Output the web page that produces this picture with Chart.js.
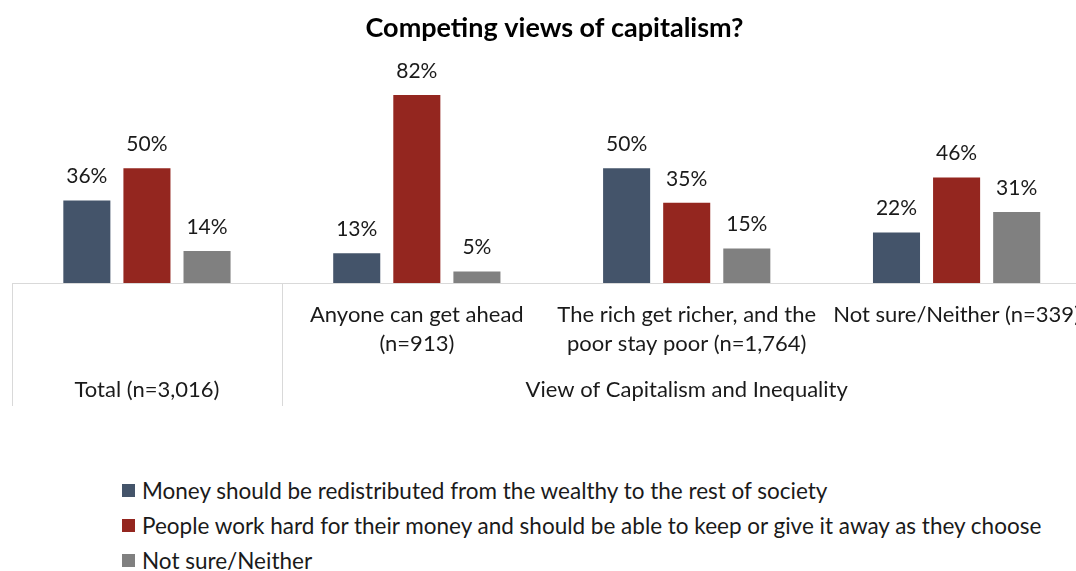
<!DOCTYPE html>
<html>
<head>
<meta charset="utf-8">
<script src="https://cdn.jsdelivr.net/npm/chart.js@4.4.1/dist/chart.umd.min.js"></script>
<style>
  html, body { margin: 0; padding: 0; background: #fff; overflow: hidden; }
  body { width: 1076px; height: 571px; position: relative; font-family: Lato, 'Noto Sans', sans-serif; }
  #chart { position: absolute; left: 0; top: 0; }
  #legend { position: absolute; left: 122px; top: 473px; }
  .leg-row { display: flex; align-items: center; height: 35px; font-size: 22.5px; color: #1a1a1a; white-space: nowrap; }
  .leg-box { width: 13px; height: 13px; margin-right: 7px; flex: none; }
</style>
</head>
<body>
<canvas id="chart" width="1097" height="420"></canvas>
<div id="legend"></div>
<script>
const titleText = 'Competing views of capitalism?';
const categories = [
  [''],
  ['Anyone can get ahead', '(n=913)'],
  ['The rich get richer, and the', 'poor stay poor (n=1,764)'],
  ['Not sure/Neither (n=339)']
];
const groupLabels = ['Total (n=3,016)', 'View of Capitalism and Inequality'];
const seriesNames = [
  'Money should be redistributed from the wealthy to the rest of society',
  'People work hard for their money and should be able to keep or give it away as they choose',
  'Not sure/Neither'
];
const redistribute = [36, 13, 50, 22];
const workHard = [50, 82, 35, 46];
const notSure = [14, 5, 15, 31];
const colors = ['#44546A', '#94261F', '#808080'];

const FONT = 'Lato, "Noto Sans", sans-serif';
const TEXT = '#1a1a1a';
const LINE = '#d9d9d9';

// value labels above each bar
const valueLabels = {
  id: 'valueLabels',
  afterDatasetsDraw(chart) {
    const ctx = chart.ctx;
    ctx.save();
    ctx.font = '21px ' + FONT;
    ctx.fillStyle = TEXT;
    ctx.textAlign = 'center';
    ctx.textBaseline = 'middle';
    chart.data.datasets.forEach((ds, i) => {
      chart.getDatasetMeta(i).data.forEach((bar, j) => {
        ctx.fillText(ds.data[j] + '%', bar.x, bar.y - 24);
      });
    });
    ctx.restore();
  }
};

// second level of the category axis: divider lines and group names
const groupAxis = {
  id: 'groupAxis',
  afterDraw(chart) {
    const ctx = chart.ctx;
    const x = chart.scales.x;
    const half = (x.getPixelForValue(1) - x.getPixelForValue(0)) / 2;
    const top = chart.chartArea.bottom;
    const bottom = top + 123;
    ctx.save();
    ctx.strokeStyle = LINE;
    ctx.lineWidth = 1;
    [x.getPixelForValue(0) - half, x.getPixelForValue(0) + half].forEach((px) => {
      px = Math.round(px) + 0.5;
      ctx.beginPath();
      ctx.moveTo(px, top);
      ctx.lineTo(px, bottom);
      ctx.stroke();
    });
    ctx.font = '22px ' + FONT;
    ctx.fillStyle = TEXT;
    ctx.textAlign = 'center';
    ctx.textBaseline = 'middle';
    ctx.fillText(groupLabels[0], x.getPixelForValue(0), top + 107);
    ctx.fillText(groupLabels[1], (x.getPixelForValue(1) + x.getPixelForValue(3)) / 2, top + 107);
    ctx.restore();
  }
};

new Chart(document.getElementById('chart'), {
  type: 'bar',
  data: {
    labels: categories,
    datasets: [
      { label: seriesNames[0], data: redistribute, backgroundColor: colors[0] },
      { label: seriesNames[1], data: workHard, backgroundColor: colors[1] },
      { label: seriesNames[2], data: notSure, backgroundColor: colors[2] }
    ]
  },
  options: {
    responsive: false,
    animation: false,
    layout: { padding: { left: 12, right: 0, top: 0, bottom: 14 } },
    datasets: { bar: { categoryPercentage: 0.668, barPercentage: 0.783 } },
    plugins: {
      legend: { display: false },
      tooltip: { enabled: false },
      title: {
        display: true,
        text: titleText,
        color: '#000',
        font: { family: FONT, size: 27, weight: 'bold', lineHeight: 1.2 },
        padding: { top: 12, bottom: 13 }
      }
    },
    scales: {
      x: {
        grid: { display: false, drawTicks: false },
        border: { display: true, color: LINE, width: 1 },
        ticks: {
          color: TEXT,
          padding: 17,
          maxRotation: 0,
          autoSkip: false,
          font: { family: FONT, size: 22, lineHeight: 1.32 }
        },
        afterFit(scale) { scale.height = 123; }
      },
      y: {
        display: false,
        min: 0,
        max: 98.4
      }
    }
  },
  plugins: [valueLabels, groupAxis]
});

// legend, one series per row
const legend = document.getElementById('legend');
seriesNames.forEach((name, i) => {
  const row = document.createElement('div');
  row.className = 'leg-row';
  row.innerHTML = `<span class="leg-box" style="background:${colors[i]}"></span><span>${name}</span>`;
  legend.appendChild(row);
});
</script>
</body>
</html>
